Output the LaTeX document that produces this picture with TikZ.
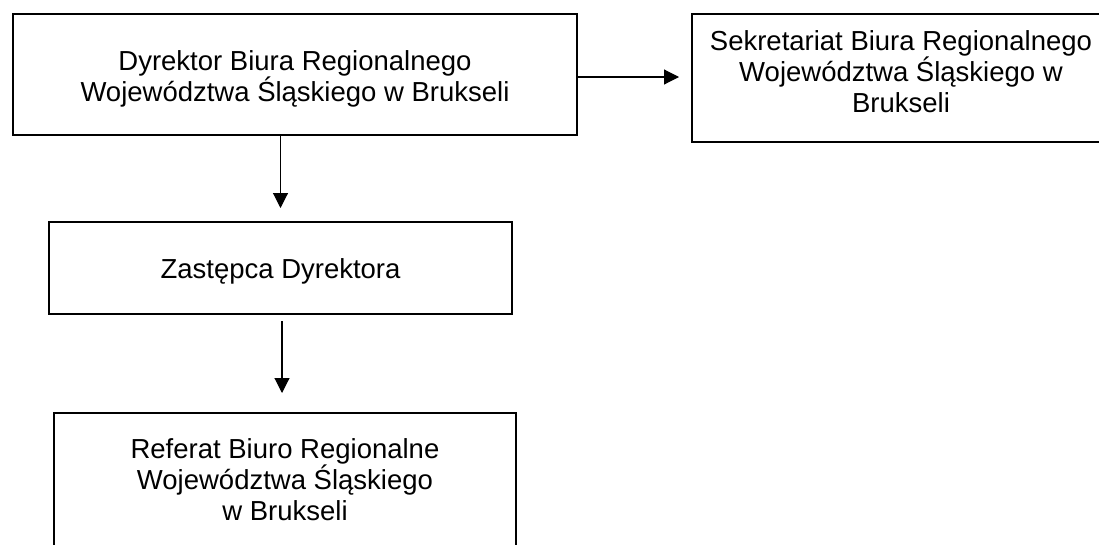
\documentclass[tikz,border=0pt]{standalone}
\usepackage{fontspec}
\setmainfont{Liberation Sans}
\usetikzlibrary{arrows.meta}
\tikzset{
  box/.style={draw=black, line width=2pt, inner sep=0pt},
  boxtext/.style={inner sep=0pt, align=center,
    font=\fontsize{27.5}{31}\selectfont, text=black},
  conn/.style={draw=black, line width=1.1pt, -{Triangle[length=15pt,width=15pt]}}
}
\begin{document}
\begin{tikzpicture}[x=1pt,y=-1pt]
\useasboundingbox (0,0) rectangle (1099,544);
\clip (0,0) rectangle (1099,544);
\fill[white] (0,0) rectangle (1099,544);
% boxes
\node[box, minimum width=564pt, minimum height=121pt] (dyr) at (295,74.5) {};
\node[box, minimum width=418pt, minimum height=128pt] (sek) at (901,78) {};
\node[box, minimum width=463pt, minimum height=92pt] (zas) at (280.5,268) {};
\node[box, minimum width=462pt, minimum height=138pt] (ref) at (285,482) {};
% texts
\node[boxtext] (dyrT) at ([yshift=-4.5pt]dyr.center)
  {Dyrektor Biura Regionalnego\\Województwa Śląskiego w Brukseli};
\node[boxtext] (sekT) at ([yshift=6pt]sek.center)
  {Sekretariat Biura Regionalnego\\Województwa Śląskiego w\\Brukseli};
\node[boxtext] (zasT) at ([yshift=-3pt]zas.center)
  {Zastępca Dyrektora};
\node[boxtext] (refT) at ([yshift=2pt]ref.center)
  {Referat Biuro Regionalne\\Województwa Śląskiego\\w Brukseli};
% connectors
\draw[conn, shorten >=12pt] ([yshift=-2.5pt]dyr.east) -- ([yshift=-2.5pt]dyr.east -| sek.west);
\draw[conn, shorten >=13pt] (zas.north |- dyr.south) -- (zas.north);
\draw[conn, shorten <=6pt, shorten >=19pt] ([xshift=1.5pt]zas.south) -- ([xshift=1.5pt]zas.south |- ref.north);
\end{tikzpicture}
\end{document}
